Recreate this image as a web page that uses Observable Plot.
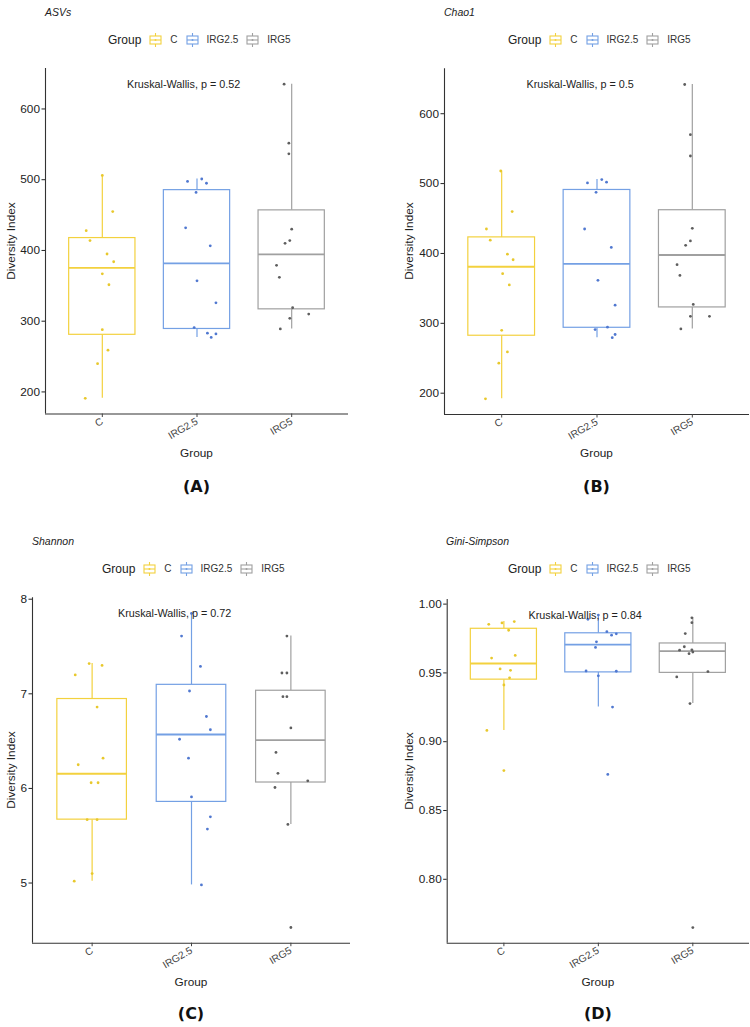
<!DOCTYPE html>
<html><head><meta charset="utf-8">
<script src="https://cdn.jsdelivr.net/npm/d3@7"></script>
<script src="https://cdn.jsdelivr.net/npm/@observablehq/plot@0.6"></script>
<style>
body{margin:0;background:#fff;}
#page{position:relative;width:750px;height:1027px;overflow:hidden;font-family:"Liberation Sans",Arial,sans-serif;color:#222;background:#fff;}
.abs{position:absolute;white-space:nowrap;line-height:1;}
.title{font-style:italic;font-size:10.5px;transform:translateY(-50%);color:#222;}
.legend{display:flex;align-items:center;gap:7px;font-size:10px;color:#333;transform:translateY(-50%);}
.legend .lt{font-size:12px;color:#222;}
.legend svg{display:block;}
.ytitle{font-size:11.8px;transform:translate(-50%,-50%) rotate(-90deg);}
.xtitle{font-size:11.8px;transform:translate(-50%,-50%);}
.letter{font-family:"DejaVu Sans",sans-serif;font-weight:bold;font-size:16px;transform:translate(-50%,-50%);color:#111;}
.plotwrap{position:absolute;}
</style>
</head><body><div id="page"></div>
<script>
// ---------- data ----------
const groups = ["C", "IRG2.5", "IRG5"];
const boxColors = ["#F3D13E", "#74A0E4", "#A0A0A0"];
const pointColors = ["#E8C82C", "#5078D0", "#5E5E5E"];

// ASVs
const asvC     = [506, 455, 428, 414, 395, 384, 367, 351.5, 288, 259, 240, 191];
const asvIRG25 = [497.5, 501, 495, 482, 432, 406.6, 357, 326, 291, 283, 282, 277];
const asvIRG5  = [635, 551.7, 536.6, 430, 414, 410, 379, 362, 319, 304, 310, 289];
const asvJitC     = [0, 0.11, -0.17, -0.13, 0.05, 0.12, 0, 0.07, 0, 0.06, -0.05, -0.18];
const asvJitIRG25 = [-0.10, 0.05, 0.10, -0.01, -0.12, 0.14, 0, 0.20, -0.03, 0.11, 0.20, 0.15];
const asvJitIRG5  = [-0.08, -0.03, -0.03, 0, -0.02, -0.07, -0.16, -0.13, 0.01, -0.02, 0.18, -0.12];

// Chao1
const chaoC     = [518, 460, 435, 419, 399, 391, 371, 355, 290, 259, 243, 192];
const chaoIRG25 = [501, 505.7, 502, 487.5, 435, 408.7, 361.5, 326, 294.5, 291, 284, 279.4];
const chaoIRG5  = [641.8, 570, 539.5, 436, 418, 411.6, 384, 368.6, 327, 310, 310, 292];
const chaoJitC     = [-0.01, 0.11, -0.16, -0.12, 0.06, 0.12, 0.01, 0.08, 0, 0.06, -0.03, -0.17];
const chaoJitIRG25 = [-0.10, 0.05, 0.10, -0.01, -0.13, 0.15, 0.01, 0.19, 0.11, -0.02, 0.19, 0.16];
const chaoJitIRG5  = [-0.08, -0.02, -0.02, 0, -0.02, -0.07, -0.16, -0.13, 0.01, -0.02, 0.18, -0.12];

// Shannon
const shC     = [7.32, 7.30, 7.20, 6.86, 6.32, 6.25, 6.06, 6.06, 5.67, 5.67, 5.10, 5.02];
const shIRG25 = [7.85, 7.61, 7.29, 7.03, 6.76, 6.62, 6.52, 6.32, 5.91, 5.70, 5.57, 4.98];
const shIRG5  = [7.61, 7.22, 7.22, 6.97, 6.97, 6.64, 6.38, 6.16, 6.08, 6.01, 5.62, 4.53];
const shJitC     = [-0.03, 0.10, -0.17, 0.05, 0.11, -0.14, -0.01, 0.06, -0.05, 0.05, 0, -0.18];
const shJitIRG25 = [0, -0.10, 0.09, -0.02, 0.15, 0.19, -0.12, -0.03, 0, 0.19, 0.16, 0.10];
const shJitIRG5  = [-0.04, -0.09, -0.04, -0.08, -0.04, 0, -0.15, -0.13, 0.17, -0.16, -0.03, 0];

// Gini-Simpson
const gsC     = [0.9853, 0.9863, 0.9873, 0.981, 0.9608, 0.9627, 0.9529, 0.9519, 0.9464, 0.9412, 0.9082, 0.879];
const gsIRG25 = [0.992, 0.989, 0.980, 0.9774, 0.9784, 0.9726, 0.9685, 0.9514, 0.9512, 0.9479, 0.9252, 0.8762];
const gsIRG5  = [0.990, 0.9865, 0.9786, 0.969, 0.9665, 0.9668, 0.9652, 0.964, 0.951, 0.9471, 0.9277, 0.7649];
const gsJitC     = [-0.16, -0.02, 0.11, 0.05, -0.13, 0.12, -0.04, 0.07, 0.06, 0, -0.18, 0];
const gsJitIRG25 = [0, -0.11, 0.09, 0.14, 0.19, -0.02, -0.03, -0.13, 0.19, 0, 0.15, 0.10];
const gsJitIRG5  = [-0.01, -0.01, -0.08, -0.09, -0.14, -0.01, 0, -0.04, 0.16, -0.17, -0.03, 0];

// tick labels / texts
const asvTicks = [200, 300, 400, 500, 600];
const chaoTicks = [200, 300, 400, 500, 600];
const shTicks = [5, 6, 7, 8];
const gsTicks = [0.80, 0.85, 0.90, 0.95, 1.00];
const panelTitles = ["ASVs", "Chao1", "Shannon", "Gini-Simpson"];
const kwLabels = ["Kruskal-Wallis, p = 0.52", "Kruskal-Wallis, p = 0.5", "Kruskal-Wallis, p = 0.72", "Kruskal-Wallis, p = 0.84"];
const panelLetters = ["(A)", "(B)", "(C)", "(D)"];

// ---------- drawing ----------
const FONT = '"Liberation Sans", Arial, sans-serif';

function makePlot(cfg) {
  const pts = [];
  cfg.values.forEach((vals, gi) => vals.forEach((v, j) => pts.push({gi, pos: gi + 1 + cfg.jitter[gi][j], y: v})));
  const stats = cfg.values.map((vals, gi) => {
    const s = vals.slice().sort(d3.ascending);
    const q1 = d3.quantile(s, 0.25), med = d3.quantile(s, 0.5), q3 = d3.quantile(s, 0.75);
    const iqr = q3 - q1;
    const lo = d3.min(s.filter(v => v >= q1 - 1.5 * iqr));
    const hi = d3.max(s.filter(v => v <= q3 + 1.5 * iqr));
    return {gi, pos: gi + 1, q1, med, q3, lo, hi};
  });
  const [mn, mx] = d3.extent(cfg.values.flat());
  const pad = (mx - mn) * 0.05;
  const yDomain = [mn - pad, mx + pad];
  const bc = d => boxColors[d.gi];
  return Plot.plot({
    width: cfg.width, height: cfg.height,
    marginTop: cfg.mt, marginBottom: cfg.mb, marginLeft: cfg.ml, marginRight: cfg.mr,
    style: {background: "transparent", fontFamily: FONT, overflow: "visible"},
    x: {domain: [0.4, 3.6], axis: null},
    y: {domain: yDomain, axis: null},
    color: {type: "identity"},
    marks: [
      Plot.ruleX(stats, {x: "pos", y1: "q3", y2: "hi", stroke: bc, strokeWidth: 1.2}),
      Plot.ruleX(stats, {x: "pos", y1: "lo", y2: "q1", stroke: bc, strokeWidth: 1.2}),
      Plot.rect(stats, {x1: d => d.pos - 0.35, x2: d => d.pos + 0.35, y1: "q1", y2: "q3", fill: "white", stroke: bc, strokeWidth: 1.2}),
      Plot.ruleY(stats, {x1: d => d.pos - 0.35, x2: d => d.pos + 0.35, y: "med", stroke: bc, strokeWidth: 1.8}),
      Plot.dot(pts, {x: "pos", y: "y", r: 1.4, fill: d => pointColors[d.gi], stroke: null}),
      Plot.text([cfg.kw], {x: () => 1.26, text: d => d, frameAnchor: "top", dy: 12, textAnchor: "start", fontSize: 10.8, fill: "#222"}),
      Plot.ruleX([0.4], {stroke: "#333", strokeWidth: 1.1}),
      Plot.ruleY([yDomain[0]], {stroke: "#333", strokeWidth: 1.1}),
      Plot.axisY({ticks: cfg.yTicks, tickFormat: cfg.yFormat, tickSize: 3.5, tickPadding: 2, fontSize: 11.8, color: "#222", label: null}),
      Plot.axisX({ticks: [1, 2, 3], tickFormat: i => groups[i - 1], tickRotate: -30, tickSize: 3.5, tickPadding: 3, fontSize: 10.2, textAnchor: "end", color: "#444", label: null})
    ]
  });
}

const page = document.getElementById("page");
function addDiv(cls, html, left, top) {
  const d = document.createElement("div");
  d.className = "abs " + cls;
  d.innerHTML = html;
  d.style.left = left + "px";
  d.style.top = top + "px";
  page.appendChild(d);
  return d;
}
function keySvg(color) {
  return `<svg width="15" height="14" viewBox="0 0 15 14"><line x1="7.5" y1="0" x2="7.5" y2="14" stroke="${color}" stroke-width="1.1"/><rect x="2" y="3" width="11" height="8" fill="white" stroke="${color}" stroke-width="1.1"/><line x1="2" y1="7" x2="13" y2="7" stroke="${color}" stroke-width="1.1"/><circle cx="7.5" cy="7" r="1" fill="${color}"/></svg>`;
}
function legendHtml() {
  let h = `<span class="lt">Group</span>`;
  groups.forEach((g, i) => { h += keySvg(boxColors[i]) + `<span>${g}</span>`; });
  return h;
}

const panels = [
  {values: [asvC, asvIRG25, asvIRG5], jitter: [asvJitC, asvJitIRG25, asvJitIRG5], yTicks: asvTicks, yFormat: d3.format("d"),
   left: 0, top: 55, width: 375, height: 400, mt: 13, mb: 41.5, ml: 45, mr: 27,
   titleX: 45, titleY: 12, legX: 108, legY: 40, yTitleX: 12, xTitleY: 454, letterY: 487},
  {values: [chaoC, chaoIRG25, chaoIRG5], jitter: [chaoJitC, chaoJitIRG25, chaoJitIRG5], yTicks: chaoTicks, yFormat: d3.format("d"),
   left: 375, top: 55, width: 375, height: 400, mt: 13.3, mb: 41, ml: 69, mr: 1,
   titleX: 444, titleY: 12, legX: 508, legY: 40, yTitleX: 410, xTitleY: 454, letterY: 487},
  {values: [shC, shIRG25, shIRG5], jitter: [shJitC, shJitIRG25, shJitIRG5], yTicks: shTicks, yFormat: d3.format("d"),
   left: 0, top: 585, width: 375, height: 400, mt: 12.2, mb: 42.3, ml: 32, mr: 25,
   titleX: 32, titleY: 541, legX: 102, legY: 569, yTitleX: 12, xTitleY: 983, letterY: 1014},
  {values: [gsC, gsIRG25, gsIRG5], jitter: [gsJitC, gsJitIRG25, gsJitIRG5], yTicks: gsTicks, yFormat: d3.format(".2f"),
   left: 375, top: 585, width: 375, height: 400, mt: 14, mb: 42.3, ml: 71.7, mr: 1,
   titleX: 446, titleY: 541, legX: 508, legY: 569, yTitleX: 410, xTitleY: 983, letterY: 1014}
];

panels.forEach((p, i) => {
  p.kw = kwLabels[i];
  const wrap = document.createElement("div");
  wrap.className = "plotwrap";
  wrap.style.left = p.left + "px";
  wrap.style.top = p.top + "px";
  wrap.appendChild(makePlot(p));
  page.appendChild(wrap);
  const fx0 = p.left + p.ml, fx1 = p.left + p.width - p.mr;
  const fy0 = p.top + p.mt, fy1 = p.top + p.height - p.mb;
  addDiv("title", panelTitles[i], p.titleX, p.titleY);
  addDiv("legend", legendHtml(), p.legX, p.legY);
  addDiv("ytitle", "Diversity Index", p.yTitleX, (fy0 + fy1) / 2);
  addDiv("xtitle", "Group", (fx0 + fx1) / 2, p.xTitleY);
  addDiv("letter", panelLetters[i], (fx0 + fx1) / 2, p.letterY);
});
</script>
</body></html>
